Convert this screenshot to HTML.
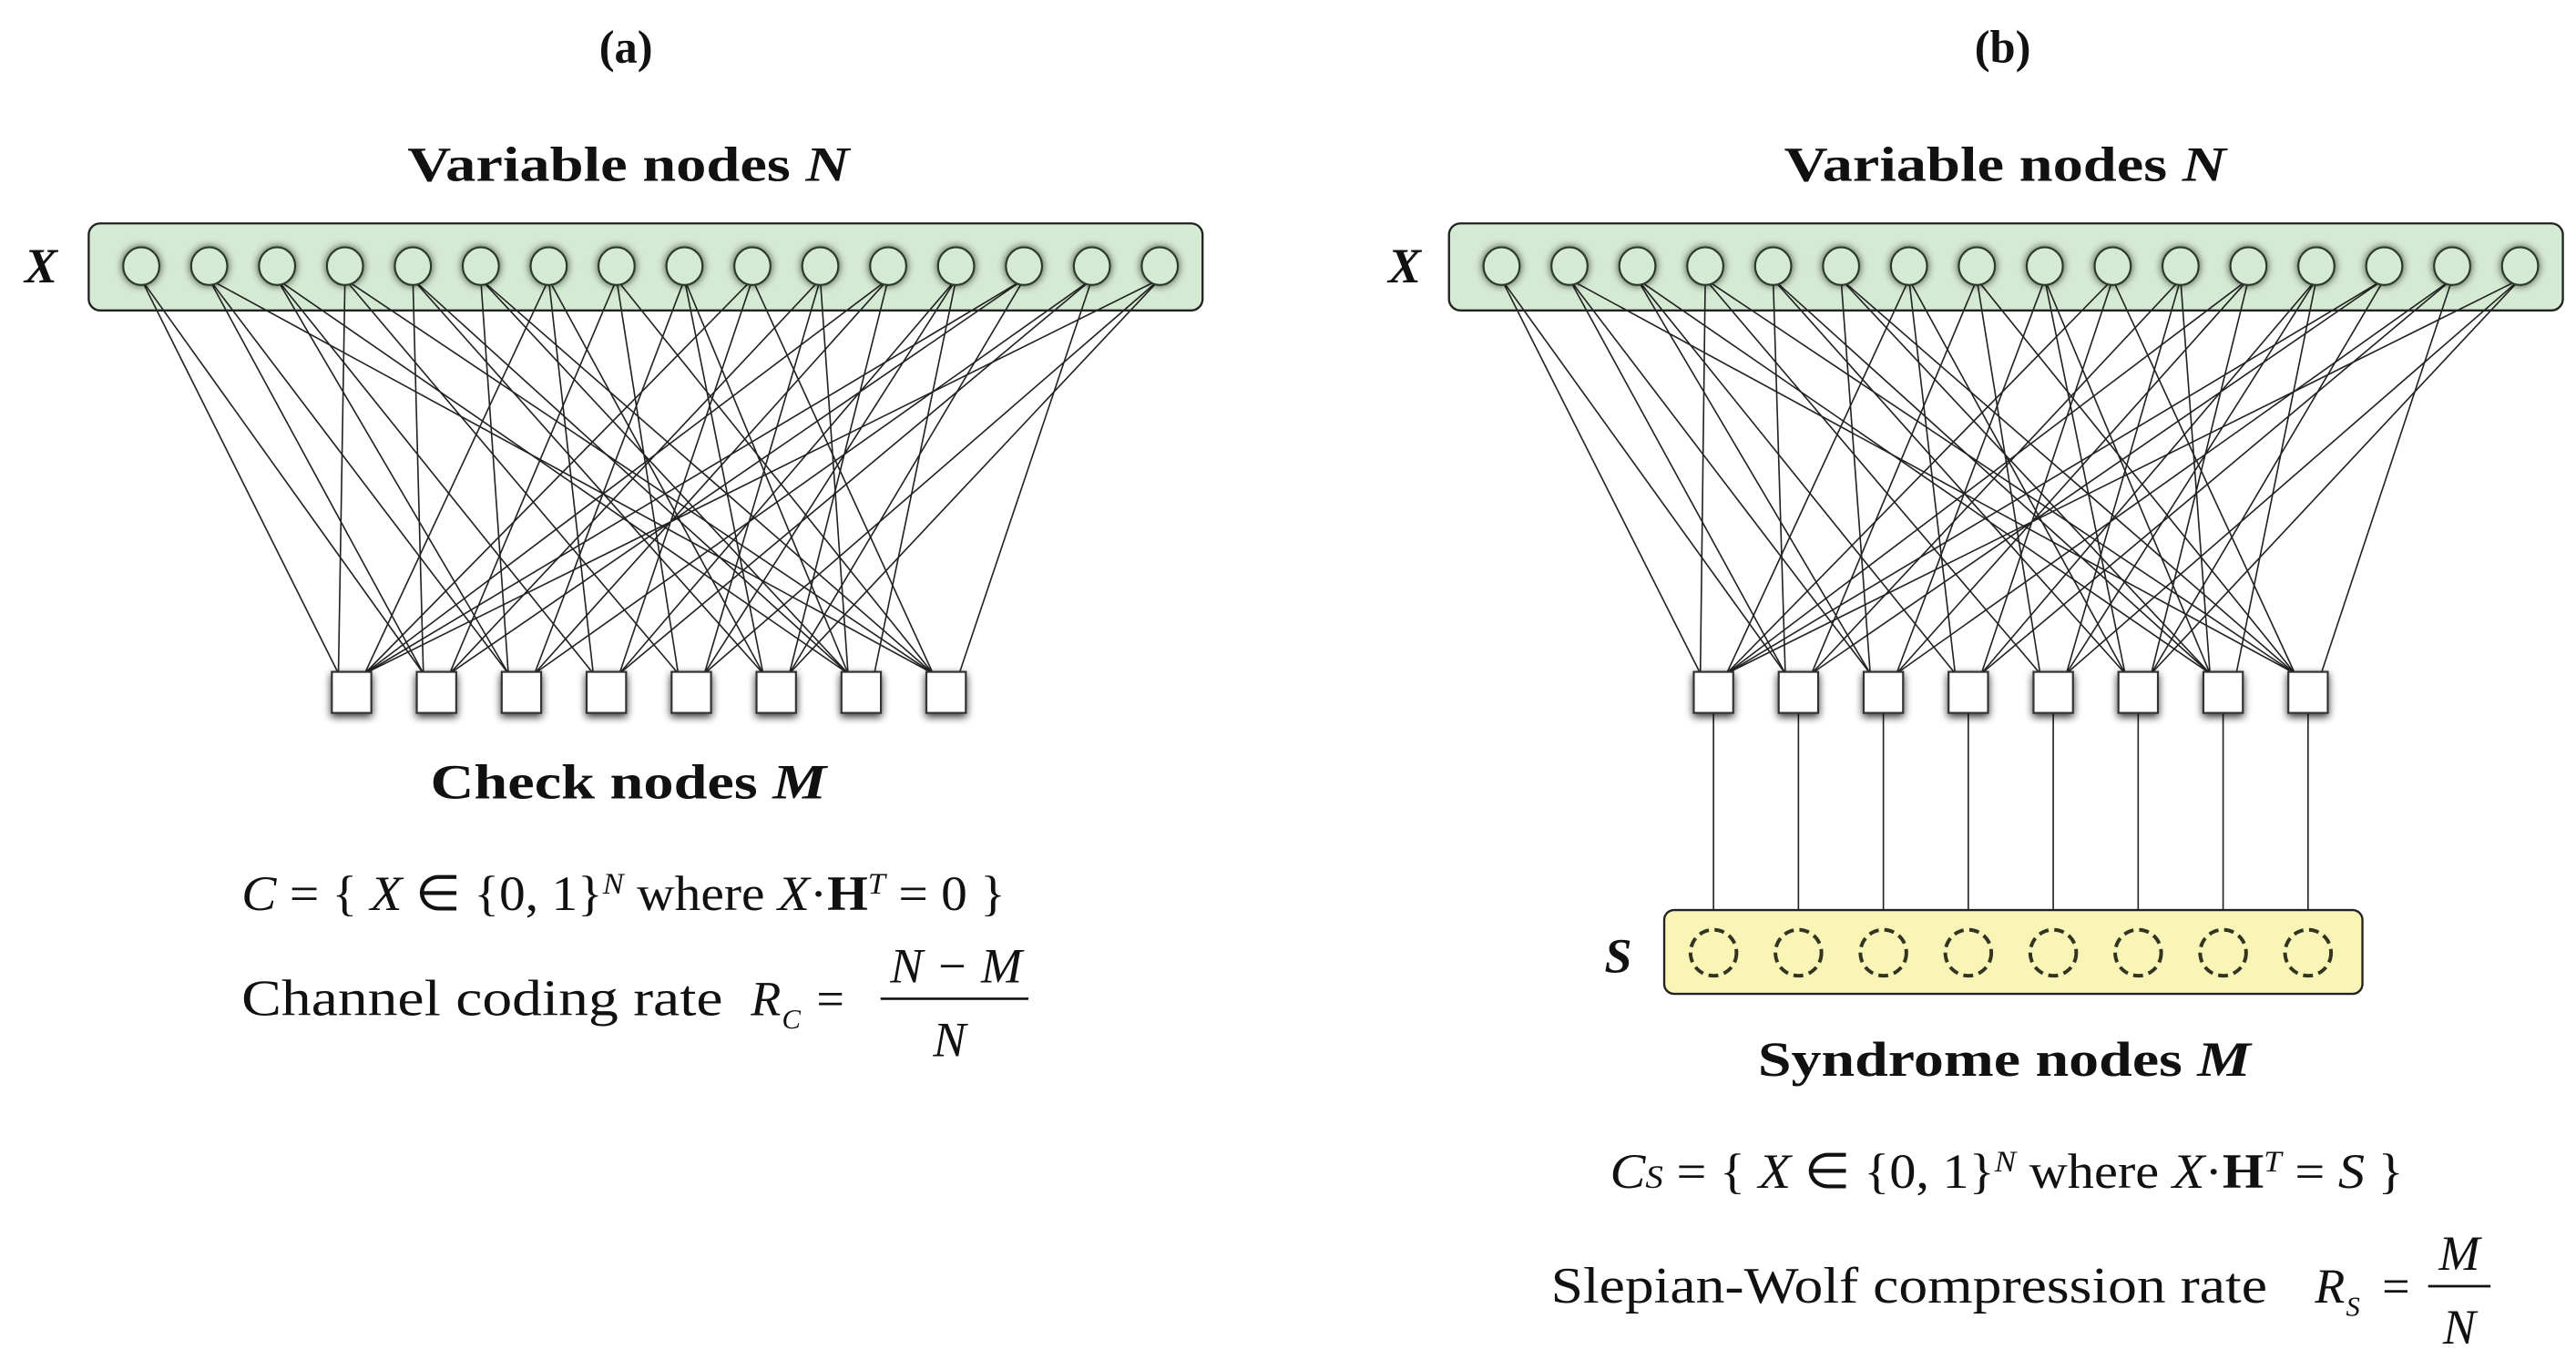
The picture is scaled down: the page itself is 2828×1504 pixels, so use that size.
<!DOCTYPE html>
<html><head><meta charset="utf-8"><style>
html,body{margin:0;padding:0;background:#fff;}
svg{display:block;}
text{font-family:"Liberation Serif",serif;fill:#111;}
.b{font-weight:bold;}
</style></head><body>
<svg id="s" width="2828" height="1504" viewBox="0 0 1568 834" preserveAspectRatio="none" xmlns="http://www.w3.org/2000/svg">
<defs>
<filter id="sh" x="-50%" y="-50%" width="200%" height="200%"><feGaussianBlur in="SourceAlpha" stdDeviation="2.5"/><feOffset dx="0" dy="2"/><feComponentTransfer><feFuncA type="linear" slope="0.8"/></feComponentTransfer><feMerge><feMergeNode/><feMergeNode in="SourceGraphic"/></feMerge></filter>
<filter id="cs" x="-50%" y="-50%" width="200%" height="200%"><feGaussianBlur in="SourceAlpha" stdDeviation="2.5"/><feComponentTransfer><feFuncA type="linear" slope="0.7"/></feComponentTransfer><feMerge><feMergeNode/><feMergeNode in="SourceGraphic"/></feMerge></filter>
</defs>
<text x="381" y="38" font-size="28" class="b" text-anchor="middle">(a)</text>
<text x="1219" y="38" font-size="28" class="b" text-anchor="middle">(b)</text>
<text x="248" y="110" font-size="30" class="b" textLength="269" lengthAdjust="spacingAndGlyphs">Variable nodes <tspan font-style="italic">N</tspan></text>
<text x="1086" y="110" font-size="30" class="b" textLength="269" lengthAdjust="spacingAndGlyphs">Variable nodes <tspan font-style="italic">N</tspan></text>
<text x="25" y="172" font-size="30" class="b" font-style="italic" text-anchor="middle">X</text>
<text x="855" y="172" font-size="30" class="b" font-style="italic" text-anchor="middle">X</text>
<rect x="54" y="136" width="678" height="53" rx="7" fill="#d5ead2" stroke="#222" stroke-width="1.3"/>
<rect x="882" y="136" width="678" height="53" rx="7" fill="#d5ead2" stroke="#222" stroke-width="1.3"/>
<g id="edges" stroke="#222" stroke-width="0.9"></g>
<g id="nodes"></g>
<rect x="1013" y="554" width="425" height="51" rx="6" fill="#f9f5b6" stroke="#222" stroke-width="1.3"/>
<text x="985" y="592" font-size="30" class="b" font-style="italic" text-anchor="middle">S</text>
<text x="262" y="486" font-size="30" class="b" textLength="241" lengthAdjust="spacingAndGlyphs">Check nodes <tspan font-style="italic">M</tspan></text>
<text x="1070" y="655" font-size="30" class="b" textLength="300" lengthAdjust="spacingAndGlyphs">Syndrome nodes <tspan font-style="italic">M</tspan></text>
<text x="147" y="554" font-size="30" textLength="465" lengthAdjust="spacingAndGlyphs"><tspan font-style="italic">C</tspan> = { <tspan font-style="italic">X</tspan> ∈ {0, 1}<tspan font-size="18" dy="-10" font-style="italic">N</tspan><tspan dy="10"> where </tspan><tspan font-style="italic">X</tspan>·<tspan font-weight="bold">H</tspan><tspan font-size="18" dy="-10" font-style="italic">T</tspan><tspan dy="10"> = 0 }</tspan></text>
<text x="147" y="618" font-size="31" textLength="293" lengthAdjust="spacingAndGlyphs">Channel coding rate</text>
<text x="457" y="618" font-size="30" font-style="italic">R</text><text x="476" y="626" font-size="17" font-style="italic">C</text>
<text x="497" y="618" font-size="30">=</text>
<text x="582" y="598" font-size="30" font-style="italic" text-anchor="middle">N − M</text>
<line x1="536" y1="608" x2="626" y2="608" stroke="#111" stroke-width="1.5"/>
<text x="578" y="643" font-size="30" font-style="italic" text-anchor="middle">N</text>
<text x="980" y="723" font-size="30" textLength="483" lengthAdjust="spacingAndGlyphs"><tspan font-style="italic">C</tspan><tspan font-size="20" font-style="italic">S</tspan> = { <tspan font-style="italic">X</tspan> ∈ {0, 1}<tspan font-size="18" dy="-10" font-style="italic">N</tspan><tspan dy="10"> where </tspan><tspan font-style="italic">X</tspan>·<tspan font-weight="bold">H</tspan><tspan font-size="18" dy="-10" font-style="italic">T</tspan><tspan dy="10"> = </tspan><tspan font-style="italic">S</tspan> }</text>
<text x="944" y="793" font-size="31" textLength="436" lengthAdjust="spacingAndGlyphs">Slepian-Wolf compression rate</text>
<text x="1409" y="793" font-size="30" font-style="italic">R</text><text x="1428" y="801" font-size="17" font-style="italic">S</text>
<text x="1450" y="793" font-size="30">=</text>
<text x="1497" y="773" font-size="30" font-style="italic" text-anchor="middle">M</text>
<line x1="1478" y1="783" x2="1516" y2="783" stroke="#111" stroke-width="1.5"/>
<text x="1497" y="818" font-size="30" font-style="italic" text-anchor="middle">N</text>
</svg>
<script>
var NS="http://www.w3.org/2000/svg";
var E=document.getElementById("edges"),Nd=document.getElementById("nodes");
function el(t,a,p){var e=document.createElementNS(NS,t);for(var k in a)e.setAttribute(k,a[k]);p.appendChild(e);return e;}
var adj=[[0,1],[1,2,7],[2,3,6],[0,4,7],[1,5,6],[2,6,7],[3,5,0],[1,4,7],[5,6,2],[0,3,7],[1,4,6],[0,2,5],[3,4,6],[0,1,5],[2,3,7],[0,4,5]];
function panel(vx0,cx0,syn){
  var vx=[],cx=[];
  for(var i=0;i<16;i++)vx.push(vx0+i*41.33);
  for(var j=0;j<8;j++)cx.push(cx0+j*51.7);
  for(var i=0;i<16;i++)adj[i].forEach(function(j){el("line",{x1:vx[i],y1:170,x2:cx[j]+(vx[i]>cx[j]?8:-8),y2:410},E);});
  if(syn)for(var j=0;j<8;j++)el("line",{x1:cx[j],y1:434,x2:cx[j],y2:566},E);
  for(var i=0;i<16;i++)el("ellipse",{cx:vx[i],cy:162,rx:11,ry:11.5,fill:"#d5ead2",stroke:"#2a3a2a","stroke-width":1.2,filter:"url(#cs)"},Nd);
  for(var j=0;j<8;j++)el("rect",{x:cx[j]-12,y:409,width:24,height:25,fill:"#fff",stroke:"#333","stroke-width":1.2,filter:"url(#sh)"},Nd);
  if(syn)for(var j=0;j<8;j++)el("circle",{cx:cx[j],cy:580,r:14,fill:"none",stroke:"#332",
    "stroke-width":2.2,"stroke-dasharray":"6 3.5"},document.getElementById("s"));
}
panel(86,214,false);
panel(914,1043,true);
</script>
</body></html>
